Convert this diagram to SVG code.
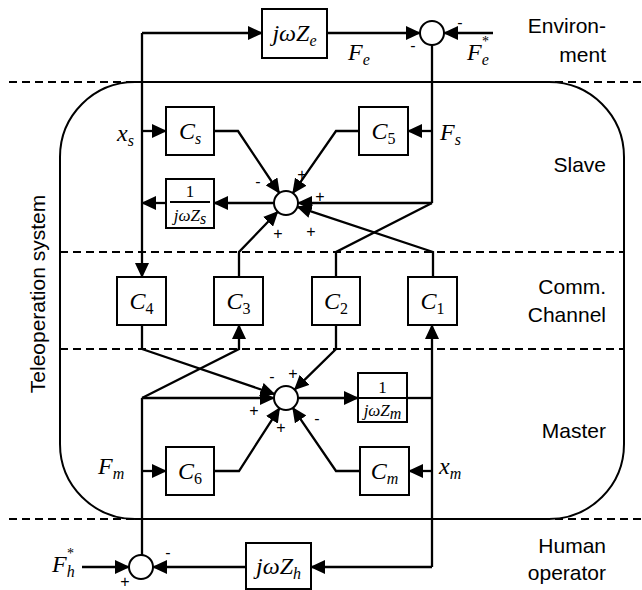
<svg xmlns="http://www.w3.org/2000/svg" width="642" height="590" viewBox="0 0 642 590">
<style>
.box{fill:#fff;stroke:#000;stroke-width:2}
.sum{fill:#fff;stroke:#000;stroke-width:2}
.wire{fill:none;stroke:#000;stroke-width:2.3;stroke-linejoin:miter}
.arr{marker-end:url(#ah)}
.dash{stroke:#000;stroke-width:1.8;stroke-dasharray:8 5;fill:none}
.frame{fill:none;stroke:#000;stroke-width:2}
.lbl{font-family:"Liberation Sans",Arial,sans-serif;font-size:21px;fill:#000}
.math{font-family:"Liberation Serif","Times New Roman",serif;font-style:italic;font-size:24px;fill:#000}
.sm{font-size:17px}
.sub{font-size:16px}
.up{font-style:normal}
.star{font-family:"Liberation Serif","Times New Roman",serif;font-size:14px;fill:#000}
.sign{font-family:"Liberation Sans",Arial,sans-serif;font-size:16px;text-anchor:middle;fill:#000}
</style>
<defs>
<marker id="ah" markerUnits="userSpaceOnUse" markerWidth="15" markerHeight="14" refX="14" refY="7" orient="auto">
<path d="M0,0 L15,7 L0,14 z" fill="#000"/>
</marker>
</defs>

<g id="zones">
<line class="dash" x1="9" y1="82" x2="642" y2="82"/>
<line class="dash" x1="9" y1="519" x2="642" y2="519"/>
<line class="dash" x1="60" y1="252" x2="624" y2="252"/>
<line class="dash" x1="60" y1="349" x2="624" y2="349"/>
<rect class="frame" x="60" y="82" width="564" height="437" rx="75" ry="75"/>
<text class="lbl" text-anchor="end" x="606" y="33">Environ-</text>
<text class="lbl" text-anchor="end" x="606" y="62">ment</text>
<text class="lbl" text-anchor="end" x="606" y="172">Slave</text>
<text class="lbl" text-anchor="end" x="606" y="294">Comm.</text>
<text class="lbl" text-anchor="end" x="606" y="322">Channel</text>
<text class="lbl" text-anchor="end" x="606" y="438">Master</text>
<text class="lbl" text-anchor="end" x="606" y="553">Human</text>
<text class="lbl" text-anchor="end" x="606" y="580">operator</text>
<text class="lbl" text-anchor="middle" transform="translate(45,294) rotate(-90)">Teleoperation system</text>
</g>

<g id="connectors">
<path class="wire arr" d="M142,33 L262,33"/>
<path class="wire arr" d="M327,33 L420,33"/>
<path class="wire arr" d="M493,33 L444,33"/>
<path class="wire" d="M432,45 L432,203"/>
<path class="wire arr" d="M432,131 L408,131"/>
<path class="wire arr" d="M142,33 L142,277"/>
<path class="wire arr" d="M142,131 L166,131"/>
<path class="wire arr" d="M166,203 L142,203"/>
<path class="wire arr" d="M214,131 L238,131 L279.3,193"/>
<path class="wire arr" d="M359,131 L336,131 L292.8,193.1"/>
<path class="wire arr" d="M432,203 L298,203"/>
<path class="wire arr" d="M433,277 L433,252 L297.4,206.8"/>
<path class="wire arr" d="M239,277 L239,252 L277.7,211.7"/>
<path class="wire arr" d="M274,203 L214,203"/>
<path class="wire" d="M432,203 L336,252 L336,277"/>
<path class="wire arr" d="M142,325 L142,349 L274.6,394.1"/>
<path class="wire arr" d="M336,325 L336,349 L294.6,389.6"/>
<path class="wire arr" d="M142,398 L274,398"/>
<path class="wire arr" d="M142,398 L239,349 L239,325"/>
<path class="wire arr" d="M214,471 L239,471 L279.5,408.1"/>
<path class="wire arr" d="M359,471 L336,471 L292.8,407.9"/>
<path class="wire arr" d="M298,398 L358,398"/>
<path class="wire" d="M407,398 L432,398"/>
<path class="wire arr" d="M432,567 L432,325"/>
<path class="wire arr" d="M432,471 L409,471"/>
<path class="wire arr" d="M142,471 L166,471"/>
<path class="wire" d="M142,398 L142,555"/>
<path class="wire arr" d="M82,567 L129,567"/>
<path class="wire arr" d="M432,567 L311,567"/>
<path class="wire arr" d="M246,567 L153,567"/>
</g>

<g id="Ze">
<rect class="box" x="262" y="9" width="65" height="49"/>
<text class="math" text-anchor="middle" x="294.5" y="41">jωZ<tspan class="sub" dy="5">e</tspan></text>
</g>
<g id="sumEnv">
<circle class="sum" cx="432" cy="33" r="12"/>
<text class="sign" x="413" y="51">-</text>
<text class="sign" x="460" y="28">-</text>
</g>
<g id="Cs">
<rect class="box" x="166" y="107" width="48" height="48"/>
<text class="math" text-anchor="middle" x="190" y="139">C<tspan class="sub" dy="5">s</tspan></text>
</g>
<g id="C5">
<rect class="box" x="359" y="107" width="49" height="48"/>
<text class="math" text-anchor="middle" x="383.5" y="139">C<tspan class="sub up" dy="5">5</tspan></text>
</g>
<g id="Zs">
<rect class="box" x="166" y="179" width="48" height="49"/>
<line x1="170" y1="202" x2="210" y2="202" stroke="#000" stroke-width="2"/>
<text class="math sm up" text-anchor="middle" x="190" y="197">1</text>
<text class="math sm" text-anchor="middle" x="190" y="221">jωZ<tspan class="sub" font-size="13" dy="3">s</tspan></text>
</g>
<g id="sumSlave">
<circle class="sum" cx="286" cy="203" r="12"/>
<text class="sign" x="258" y="187">-</text>
<text class="sign" x="302" y="180">+</text>
<text class="sign" x="320" y="202">+</text>
<text class="sign" x="311" y="237">+</text>
<text class="sign" x="278" y="239">+</text>
</g>
<g id="C4">
<rect class="box" x="117" y="277" width="49" height="48"/>
<text class="math" text-anchor="middle" x="141.5" y="309">C<tspan class="sub up" dy="5">4</tspan></text>
</g>
<g id="C3">
<rect class="box" x="214" y="277" width="49" height="48"/>
<text class="math" text-anchor="middle" x="238.5" y="309">C<tspan class="sub up" dy="5">3</tspan></text>
</g>
<g id="C2">
<rect class="box" x="312" y="277" width="48" height="48"/>
<text class="math" text-anchor="middle" x="336" y="309">C<tspan class="sub up" dy="5">2</tspan></text>
</g>
<g id="C1">
<rect class="box" x="408" y="277" width="49" height="48"/>
<text class="math" text-anchor="middle" x="432.5" y="309">C<tspan class="sub up" dy="5">1</tspan></text>
</g>
<g id="sumMaster">
<circle class="sum" cx="286" cy="398" r="12"/>
<text class="sign" x="272" y="382">-</text>
<text class="sign" x="293" y="379">+</text>
<text class="sign" x="254" y="416">+</text>
<text class="sign" x="281" y="433">+</text>
<text class="sign" x="317" y="424">-</text>
</g>
<g id="Zm">
<rect class="box" x="358" y="373" width="49" height="49"/>
<line x1="358" y1="398" x2="407" y2="398" stroke="#000" stroke-width="2"/>
<text class="math sm up" text-anchor="middle" x="382.5" y="393">1</text>
<text class="math sm" text-anchor="middle" x="382.5" y="416">jωZ<tspan class="sub" font-size="13" dy="3">m</tspan></text>
</g>
<g id="C6">
<rect class="box" x="166" y="447" width="48" height="48"/>
<text class="math" text-anchor="middle" x="190" y="479">C<tspan class="sub up" dy="5">6</tspan></text>
</g>
<g id="Cm">
<rect class="box" x="360" y="447" width="49" height="48"/>
<text class="math" text-anchor="middle" x="384.5" y="479">C<tspan class="sub" dy="5">m</tspan></text>
</g>
<g id="Zh">
<rect class="box" x="246" y="543" width="65" height="46"/>
<text class="math" text-anchor="middle" x="278.5" y="574">jωZ<tspan class="sub" dy="5">h</tspan></text>
</g>
<g id="sumHuman">
<circle class="sum" cx="141" cy="567" r="12"/>
<text class="sign" x="168" y="558">-</text>
<text class="sign" x="125" y="587" font-size="15">+</text>
</g>

<g id="signals">
<text class="math" text-anchor="end" x="134" y="141">x<tspan class="sub" dy="5">s</tspan></text>
<text class="math" x="440" y="140">F<tspan class="sub" dy="5">s</tspan></text>
<text class="math" x="348" y="60">F<tspan class="sub" dy="5">e</tspan></text>
<text class="math" x="467" y="60">F<tspan class="sub" dy="5">e</tspan></text>
<text class="star" x="482" y="46">*</text>
<text class="math" x="52" y="572">F<tspan class="sub" dy="5">h</tspan></text>
<text class="star" x="67" y="558">*</text>
<text class="math" x="98" y="474">F<tspan class="sub" dy="5">m</tspan></text>
<text class="math" x="439" y="474">x<tspan class="sub" dy="5">m</tspan></text>
</g>
</svg>
